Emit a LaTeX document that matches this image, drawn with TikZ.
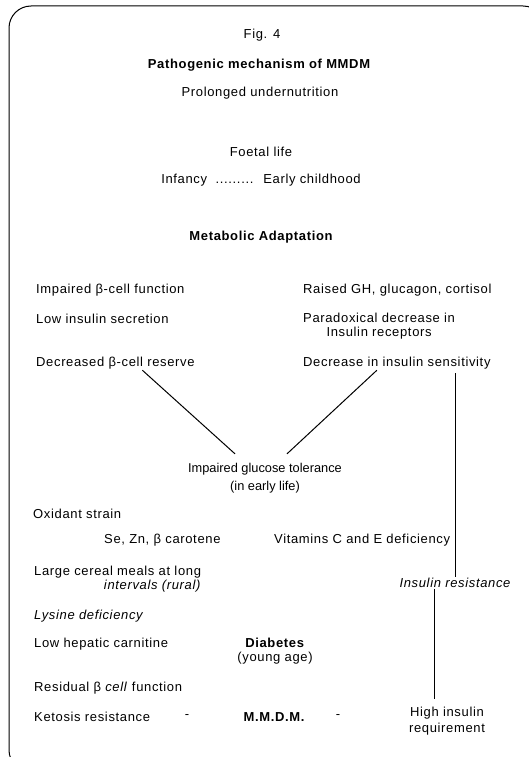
\documentclass[tikz,border=0pt]{standalone}
\usepackage{fontspec}
\setmainfont{Liberation Sans}[LetterSpace=5]
\newfontfamily\plainfont{Liberation Sans}
\usetikzlibrary{positioning}

\begin{document}
\begin{tikzpicture}[
            x=1pt, y=-1pt,                % pixel grid
            every node/.style={
                inner sep=1pt,
                font=\fontsize{13}{14}\selectfont
            },
            lft/.style={anchor=west},
            hd/.style={font=\fontsize{13}{14}\selectfont\bfseries},
            link/.style={line width=1pt}
        ]
            \useasboundingbox (0,0) rectangle (529,757);
            % frame
            \draw[line width=1pt, rounded corners=22pt] (9,6) rectangle (545,772);

            % heading
            \node (fig) at (262,35) {Fig. 4};
            \node[hd] (title) at (259,65) {Pathogenic mechanism of MMDM};
            \node (undernut) at (260,93) {Prolonged undernutrition};
            \node (foetal) at (261,152) {Foetal life};
            \node (infancy) at (261,180) {Infancy \ ......... \ Early childhood};
            \node[hd] (adapt) at (261,237) {Metabolic Adaptation};

            % left column
            \node[lft] (ibf) at (35,290) {Impaired β-cell function};
            \node[lft] (lis) at (35,319) {Low insulin secretion};
            \node[lft] (dbr) at (35,363) {Decreased β-cell reserve};

            % right column
            \node[lft] (raised) at (302,290) {Raised GH, glucagon, cortisol};
            \node[lft, align=center] (paradox) at (302,326) {Paradoxical decrease in\\Insulin receptors};
            \node[lft] (dis) at (302,363) {Decrease in insulin sensitivity};

            % impaired glucose tolerance
            \node[align=center, font=\plainfont\fontsize{12.8}{18}\selectfont] (igt) at (265,478)
                {Impaired glucose tolerance\\(in early life)};

            % lower part
            \node[lft] (oxid) at (32,514) {Oxidant strain};
            \node[lft] (sezn) at (103,540) {Se, Zn, β carotene};
            \node[lft] (vit) at (273,540) {Vitamins C and E deficiency};
            \node[lft, align=right] (cereal) at (33,579) {Large cereal meals at long\\\textit{intervals (rural)}};
            \node[font=\fontsize{13}{14}\selectfont\itshape] (ir) at (455,583) {Insulin resistance};
            \node[lft, font=\fontsize{13}{14}\selectfont\itshape] (lysine) at (33,616) {Lysine deficiency};
            \node[lft] (carn) at (33,644) {Low hepatic carnitine};
            \node[align=center] (diab) at (275,651) {\textbf{Diabetes}\\(young age)};
            \node[lft] (resid) at (33,688) {Residual β \textit{cell} function};
            \node[lft] (ketosis) at (33,717) {Ketosis resistance};
            \node (dasha) at (187,717) {-};
            \node[hd] (mmdm) at (274,717) {M.M.D.M.};
            \node (dashb) at (338,717) {-};
            \node[align=center, font=\fontsize{13}{16}\selectfont] (hir) at (447,721) {High insulin\\requirement};

            % connectors
            \draw[link] ([xshift=27pt]dbr.south) -- ([xshift=-30pt,yshift=8pt]igt.north);
            \draw[link] ([xshift=-20pt]dis.south) -- ([xshift=22pt,yshift=8pt]igt.north);
            \draw[link, shorten <=3pt] (ir.north |- dis.south) -- (ir.north);
            \coordinate (irfoot) at ([xshift=-21pt]ir.south);
            \draw[link, shorten >=7pt] (irfoot) -- (irfoot |- hir.north);
        \end{tikzpicture}
\end{document}
